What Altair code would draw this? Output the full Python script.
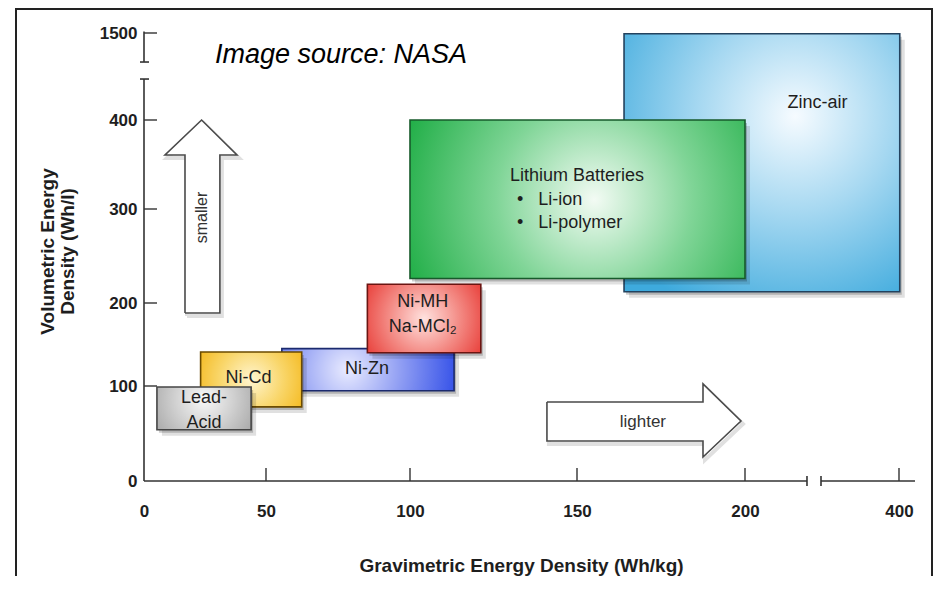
import altair as alt
import pandas as pd

# ---------------- data ----------------
battery = ["Zinc-air", "Lithium Batteries", "Ni-Zn", "Ni-MH", "Ni-Cd", "Lead-Acid"]
grav_lo = [164, 100, 55.5, 85.2, 23.2, 5.3]      # Wh/kg
grav_hi = [401, 200, 113.2, 121.2, 62.4, 43.9]
vol_lo = [212, 226, 95, 140, 78, 54]             # Wh/l
vol_hi = [1490, 400, 145, 220, 141, 99]
box_text = [["Zinc-air"], ["Lithium Batteries"], ["Ni-Zn"], ["Ni-MH", "Na-MCl₂"], ["Ni-Cd"], ["Lead-", "Acid"]]
lithium_types = ["•\u00a0\u00a0\u00a0Li-ion", "•\u00a0\u00a0\u00a0Li-polymer"]

x_ticks = [0, 50, 100, 150, 200, 400]
y_ticks = [0, 100, 200, 300, 400, 1500]
x_break = [280.5, 298.7]
y_break = [918, 1133]
x_end = 421
y_end = 1520

smaller_x = [16.8, 16.8, 8.6, 23.6, 38.1, 31.1, 31.1, 16.8]
smaller_y = [188, 360.7, 360.7, 400, 360.7, 360.7, 188, 188]
smaller_pos = [23.6, 291]
lighter_x = [141, 187.5, 187.5, 198.8, 187.5, 187.5, 141, 141]
lighter_y = [83.2, 83.2, 102.4, 63.2, 25.3, 42.1, 42.1, 83.2]
lighter_pos = [169.6, 62]

# ---------------- styles ----------------
W, H = 771, 451
FONT = "Liberation Sans"
TXT = "#1e1e1e"

xscale = alt.Scale(domain=[0, 50, 100, 150, 200, 400, 421],
                   range=[0, 122, 266, 433, 601, 755, 771], nice=False, zero=False)
yscale = alt.Scale(domain=[0, 100, 200, 300, 400, 1500, 1538],
                   range=[451, 356, 273, 179, 90, 3, 0], nice=False, zero=False)

xaxis = alt.Axis(values=x_ticks, title="Gravimetric Energy Density (Wh/kg)", domain=False, ticks=False,
                 grid=False, labelFont=FONT, labelFontSize=17, labelFontWeight="bold", labelColor=TXT,
                 labelPadding=22, labelFlush=False, labelOverlap=False, titleFont=FONT, titleFontSize=19,
                 titleFontWeight="bold", titleColor=TXT, titleX=377, titleY=84, titleAlign="center",
                 titleBaseline="middle")
yaxis = alt.Axis(values=y_ticks, format="d", title=["Volumetric Energy", "Density (Wh/l)"], domain=False,
                 ticks=False, grid=False, labelFont=FONT, labelFontSize=17, labelFontWeight="bold",
                 labelColor=TXT, labelPadding=7, labelFlush=False, labelOverlap=False, titleFont=FONT,
                 titleFontSize=19, titleFontWeight="bold", titleColor=TXT, titleAngle=270, titleX=-97,
                 titleY=221, titleAlign="center", titleBaseline="middle", titleLineHeight=20)


def X(field):
    return alt.X(field, scale=xscale, axis=xaxis)


def Y(field):
    return alt.Y(field, scale=yscale, axis=yaxis)


STYLE = {
    "Zinc-air": dict(edge="#3eaadd", mid="#a6d8f1", center="#f6fbff", stroke="#23425e", cx=0.62, cy=0.33, r=0.78, dx=9, dy=19),
    "Lithium Batteries": dict(edge="#11a83a", mid="#80d597", center="#f3fbf4", stroke="#175a2b", cx=0.55, cy=0.5, r=0.65, dx=0, dy=-21),
    "Ni-Zn": dict(edge="#2443e6", mid="#8f9df3", center="#e9ebff", stroke="#1b2a6e", cx=0.38, cy=0.5, r=0.7, dx=2, dy=0),
    "Ni-MH": dict(edge="#e4211c", mid="#f38a84", center="#ffe2df", stroke="#6b1512", cx=0.5, cy=0.5, r=0.7, dx=2, dy=-18),
    "Ni-Cd": dict(edge="#f2ad00", mid="#f9d66a", center="#fff5d0", stroke="#6b4b00", cx=0.5, cy=0.5, r=0.7, dx=0, dy=0),
    "Lead-Acid": dict(edge="#9c9c9c", mid="#d0d0d0", center="#f8f8f8", stroke="#454545", cx=0.5, cy=0.4, r=0.7, dx=0, dy=-10),
}

dummy = pd.DataFrame({"a": [1]})
layers = []

# outer frame
layers.append(alt.Chart(dummy).mark_rect(fillOpacity=0, stroke="#222", strokeWidth=2).encode(
    x=alt.value(-128), x2=alt.value(788), y=alt.value(-21), y2=alt.value(640)))

# x axis line (with break)
df_xl = pd.DataFrame({"x": [0, x_break[1]], "x2": [x_break[0], x_end]})
layers.append(alt.Chart(df_xl).mark_rule(color="#333", strokeWidth=1.6).encode(
    x=X("x:Q"), x2="x2:Q", y=alt.value(H)))

# y axis line (with break)
df_yl = pd.DataFrame({"y": [0, y_break[1]], "y2": [y_break[0], y_end]})
layers.append(alt.Chart(df_yl).mark_rule(color="#333", strokeWidth=1.6).encode(
    y=Y("y:Q"), y2="y2:Q", x=alt.value(0)))

# inward ticks
layers.append(alt.Chart(pd.DataFrame({"x": x_ticks[1:]})).mark_rule(color="#333", strokeWidth=1.4).encode(
    x=X("x:Q"), y=alt.value(H - 13), y2=alt.value(H)))
layers.append(alt.Chart(pd.DataFrame({"y": y_ticks[1:]})).mark_rule(color="#333", strokeWidth=1.4).encode(
    y=Y("y:Q"), x=alt.value(0), x2=alt.value(13)))
# break marks
layers.append(alt.Chart(pd.DataFrame({"x": x_break})).mark_rule(color="#333", strokeWidth=1.6).encode(
    x=X("x:Q"), y=alt.value(H - 5), y2=alt.value(H + 5)))
layers.append(alt.Chart(pd.DataFrame({"y": y_break})).mark_rule(color="#333", strokeWidth=1.6).encode(
    y=Y("y:Q"), x=alt.value(-4), x2=alt.value(5)))

# battery boxes
for i, name in enumerate(battery):
    s = STYLE[name]
    df = pd.DataFrame({"x1": [grav_lo[i]], "x2": [grav_hi[i]], "y1": [vol_lo[i]], "y2": [vol_hi[i]]})
    enc = dict(x=X("x1:Q"), x2="x2:Q", y=Y("y1:Q"), y2="y2:Q")
    base = alt.Chart(df)
    layers.append(base.mark_rect(color="#000", opacity=0.12, xOffset=5, x2Offset=5, yOffset=6, y2Offset=6).encode(**enc))
    layers.append(base.mark_rect(color="#000", opacity=0.2, xOffset=2, x2Offset=2, yOffset=3, y2Offset=3).encode(**enc))
    grad = {"gradient": "radial", "x1": s["cx"], "y1": s["cy"], "x2": s["cx"], "y2": s["cy"],
            "r1": 0, "r2": s["r"],
            "stops": [{"offset": 0, "color": s["center"]}, {"offset": 0.45, "color": s["mid"]},
                      {"offset": 1, "color": s["edge"]}]}
    layers.append(base.mark_rect(fill=grad, stroke=s["stroke"], strokeWidth=1.6).encode(**enc))

# box labels
for i, name in enumerate(battery):
    s = STYLE[name]
    cx = (grav_lo[i] + grav_hi[i]) / 2
    cy = (vol_lo[i] + vol_hi[i]) / 2
    txt = box_text[i] if len(box_text[i]) > 1 else box_text[i][0]
    layers.append(alt.Chart(pd.DataFrame({"x": [cx], "y": [cy]})).mark_text(
        text=txt, font=FONT, fontSize=18, color=TXT, lineHeight=25, dx=s["dx"], dy=s["dy"],
        align="center", baseline="middle").encode(x=X("x:Q"), y=Y("y:Q")))
    if name == "Lithium Batteries":
        layers.append(alt.Chart(pd.DataFrame({"x": [cx], "y": [cy]})).mark_text(
            text=lithium_types, font=FONT, fontSize=18, color=TXT, lineHeight=23, dx=-60, dy=3,
            align="left", baseline="middle").encode(x=X("x:Q"), y=Y("y:Q")))

# arrows
for xs, ys in [(smaller_x, smaller_y), (lighter_x, lighter_y)]:
    df = pd.DataFrame({"x": xs, "y": ys, "o": list(range(len(xs)))})
    enc = dict(x=X("x:Q"), y=Y("y:Q"), order="o:Q")
    layers.append(alt.Chart(df).mark_line(stroke="#000", strokeOpacity=0.12, strokeWidth=4,
                                          xOffset=2, yOffset=3).encode(**enc))
    layers.append(alt.Chart(df).mark_line(fill="white", stroke="#4a4a4a", strokeWidth=1.6,
                                          strokeJoin="miter").encode(**enc))

layers.append(alt.Chart(pd.DataFrame({"x": [smaller_pos[0]], "y": [smaller_pos[1]]})).mark_text(
    text="smaller", font=FONT, fontSize=16, color="#333", angle=270, align="center", baseline="middle").encode(
    x=X("x:Q"), y=Y("y:Q")))
layers.append(alt.Chart(pd.DataFrame({"x": [lighter_pos[0]], "y": [lighter_pos[1]]})).mark_text(
    text="lighter", font=FONT, fontSize=17, color="#333", align="center", baseline="middle").encode(
    x=X("x:Q"), y=Y("y:Q")))

# source note
layers.append(alt.Chart(dummy).mark_text(
    text="Image source: NASA", font=FONT, fontSize=27, fontStyle="italic", color="#000",
    align="left", baseline="alphabetic").encode(x=alt.value(71), y=alt.value(33)))

chart = alt.layer(*layers).properties(
    width=W, height=H, background="white",
    padding={"left": 136, "top": 22, "right": 18, "bottom": 95},
    autosize=alt.AutoSizeParams(type="none"),
).configure_view(strokeWidth=0)

chart.save("out.html", embed_options={"renderer": "svg", "actions": False})
